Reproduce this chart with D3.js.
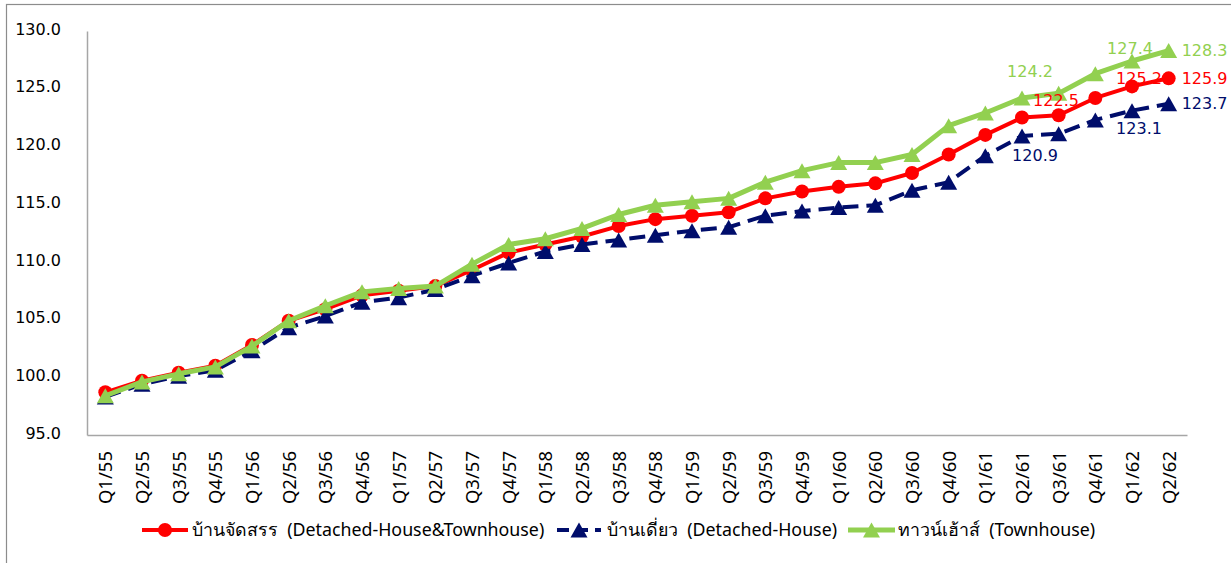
<!DOCTYPE html>
<html>
<head>
<meta charset="utf-8">
<script src="https://cdn.jsdelivr.net/npm/d3@7"></script>
<style>
  body { margin: 0; background: #fff; }
  svg { display: block; }
</style>
</head>
<body>
<div id="chart"></div>
<script>
const quarters = ["Q1/55","Q2/55","Q3/55","Q4/55","Q1/56","Q2/56","Q3/56","Q4/56",
  "Q1/57","Q2/57","Q3/57","Q4/57","Q1/58","Q2/58","Q3/58","Q4/58",
  "Q1/59","Q2/59","Q3/59","Q4/59","Q1/60","Q2/60","Q3/60","Q4/60",
  "Q1/61","Q2/61","Q3/61","Q4/61","Q1/62","Q2/62"];

const allHouses = [98.7, 99.7, 100.4, 101.0, 102.8, 104.9, 105.9, 107.1, 107.5, 107.9,
  109.3, 110.8, 111.5, 112.2, 113.1, 113.7, 114.0, 114.3, 115.5, 116.1,
  116.5, 116.8, 117.7, 119.3, 121.0, 122.5, 122.7, 124.2, 125.2, 125.9];

const detached = [98.3, 99.4, 100.1, 100.6, 102.3, 104.3, 105.3, 106.5, 106.9, 107.6,
  108.8, 109.9, 110.9, 111.5, 111.9, 112.3, 112.7, 113.0, 114.0, 114.4,
  114.7, 114.9, 116.2, 116.9, 119.2, 120.9, 121.1, 122.3, 123.1, 123.7];

const townhouse = [98.4, 99.6, 100.3, 100.9, 102.7, 104.9, 106.2, 107.4, 107.7, 107.9,
  109.8, 111.5, 112.0, 112.9, 114.1, 114.9, 115.2, 115.5, 116.9, 117.9,
  118.6, 118.6, 119.3, 121.8, 122.9, 124.2, 124.6, 126.3, 127.4, 128.3];

const yTicks = [95, 100, 105, 110, 115, 120, 125, 130];

const seriesNames = ["บ้านจัดสรร  (Detached-House&Townhouse)", "บ้านเดี่ยว  (Detached-House)", "ทาวน์เฮ้าส์  (Townhouse)"];

// which points carry a value label
const labelled = ["Q2/61", "Q1/62", "Q2/62"];

let width = 1231, height = 563,
    margin = ({ top: 31, right: 44, bottom: 128, left: 87 });

const svg = d3.select("#chart").append("svg")
  .attr("width", width).attr("height", height);

const series = [
  { name: seriesNames[0], values: allHouses, color: "#ff0000", dash: null, marker: "circle", width: 4,
    offsets: { "Q2/61": [34, -17, "middle"], "Q1/62": [7, -8, "middle"], "Q2/62": [13, 0, "start"] } },
  { name: seriesNames[1], values: detached, color: "#000d6b", dash: "16,8", marker: "triangle", width: 4,
    offsets: { "Q2/61": [13, 19, "middle"], "Q1/62": [7, 18, "middle"], "Q2/62": [13, 0, "start"] } },
  { name: seriesNames[2], values: townhouse, color: "#92d050", dash: null, marker: "triangle", width: 5,
    offsets: { "Q2/61": [8, -27, "middle"], "Q1/62": [-2, -13, "middle"], "Q2/62": [13, 0, "start"] } }
];

// outer frame (right and bottom edges fall outside the picture)
svg.append("rect")
  .attr("x", 6.5).attr("y", 4.5)
  .attr("width", 1300).attr("height", 700)
  .attr("fill", "none").attr("stroke", "#8c8c8c").attr("stroke-width", 1.2);

let x = d3.scalePoint()
  .domain(quarters)
  .range([margin.left, width - margin.right])
  .padding(0.5);

let y = d3.scaleLinear()
  .domain([95, 130])
  .range([height - margin.bottom, margin.top]);

// y axis
svg.append("g")
  .attr("transform", `translate(${margin.left},0)`)
  .call(d3.axisLeft(y).tickValues(yTicks).tickFormat(d3.format(".1f")).tickSize(0).tickPadding(26))
  .call(g => g.select(".domain").attr("stroke", "#a6a6a6").attr("stroke-width", 1.5))
  .call(g => g.selectAll("text")
    .attr("font-family", "DejaVu Sans, Verdana, sans-serif")
    .attr("font-size", 16).attr("fill", "#000").attr("dy", "0.2em"));

// x axis
svg.append("g")
  .attr("transform", `translate(0,${height - margin.bottom})`)
  .call(d3.axisBottom(x).tickSize(0).tickSizeOuter(0))
  .call(g => g.select(".domain").attr("stroke", "#a6a6a6").attr("stroke-width", 1.5))
  .call(g => g.selectAll("text")
    .attr("font-family", "Noto Sans, sans-serif")
    .attr("font-size", 18.5).attr("fill", "#000")
    .attr("text-anchor", "end")
    .attr("transform", "rotate(-90)")
    .attr("x", -16).attr("y", 0).attr("dy", "0.35em"));

const line = d3.line()
  .x((d, i) => x(quarters[i]))
  .y(d => y(d));

const triangle = (w, h) => `M0,${-h / 2}L${w / 2},${h / 2}L${-w / 2},${h / 2}Z`;

function drawMarker(g, s, cx, cy) {
  if (s.marker === "circle") {
    g.append("circle").attr("cx", cx).attr("cy", cy).attr("r", 7).attr("fill", s.color);
  } else {
    g.append("path").attr("d", triangle(17, 15))
      .attr("transform", `translate(${cx},${cy})`).attr("fill", s.color);
  }
}

series.forEach(s => {
  const g = svg.append("g");
  g.append("path")
    .datum(s.values)
    .attr("fill", "none")
    .attr("stroke", s.color)
    .attr("stroke-width", s.width)
    .attr("stroke-dasharray", s.dash)
    .attr("stroke-linejoin", "round")
    .attr("d", line);
  s.values.forEach((v, i) => drawMarker(g, s, x(quarters[i]), y(v)));
});

// value labels drawn after all lines
series.forEach(s => {
  s.values.forEach((v, i) => {
    const q = quarters[i];
    if (!labelled.includes(q)) return;
    const o = s.offsets[q];
    svg.append("text")
      .attr("x", x(q) + o[0])
      .attr("y", y(v) + o[1])
      .attr("dy", "0.36em")
      .attr("text-anchor", o[2])
      .attr("font-family", "DejaVu Sans, Verdana, sans-serif")
      .attr("font-size", 16)
      .attr("fill", s.color)
      .text(v.toFixed(1));
  });
});

// legend
const legendY = 530;
const legendItems = [
  { s: series[0], x0: 142, x1: 188, tx: 192 },
  { s: series[1], x0: 557, x1: 601, tx: 607 },
  { s: series[2], x0: 848, x1: 895, tx: 898 }
];
const legend = svg.append("g");
legendItems.forEach(it => {
  legend.append("line")
    .attr("x1", it.x0).attr("x2", it.x1)
    .attr("y1", legendY).attr("y2", legendY)
    .attr("stroke", it.s.color).attr("stroke-width", it.s.width)
    .attr("stroke-dasharray", it.s.dash ? "12,7" : null);
  drawMarker(legend, it.s, (it.x0 + it.x1) / 2, legendY);
  legend.append("text")
    .attr("x", it.tx).attr("y", legendY).attr("dy", "0.35em")
    .attr("font-family", "Noto Sans, sans-serif")
    .attr("font-size", 17.8).attr("fill", "#000")
    .attr("xml:space", "preserve")
    .style("white-space", "pre")
    .text(it.s.name);
});
</script>
</body>
</html>
